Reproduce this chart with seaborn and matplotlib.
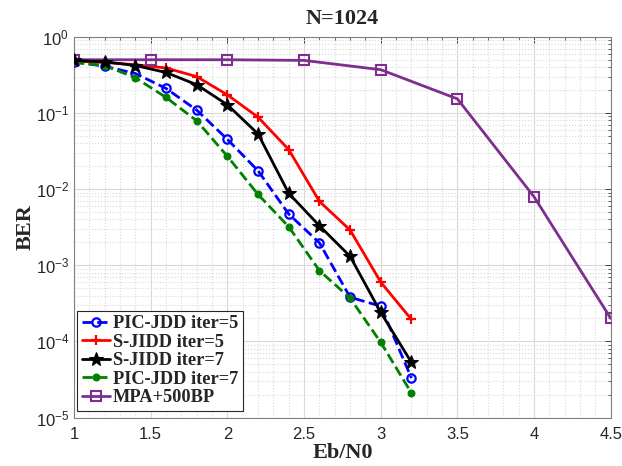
import matplotlib
matplotlib.use("Agg")
import matplotlib.pyplot as plt
import seaborn as sns
import numpy as np
import pandas as pd
from matplotlib.ticker import LogLocator, MultipleLocator, FixedLocator, NullFormatter

# ---- data ----
ebn0 = [1.0, 1.2, 1.4, 1.6, 1.8, 2.0, 2.2, 2.4, 2.6, 2.8, 3.0, 3.2]
pic5 = [0.47, 0.41, 0.33, 0.21, 0.109, 0.045, 0.0174, 0.0047, 0.00197, 3.8e-4, 2.9e-4, 3.3e-5]
sj5 = [0.48, 0.46, 0.43, 0.39, 0.30, 0.173, 0.088, 0.033, 0.0069, 0.0029, 6.0e-4, 1.94e-4]
sj7 = [0.49, 0.47, 0.42, 0.34, 0.235, 0.128, 0.053, 0.0088, 0.0033, 0.00131, 2.4e-4, 5.3e-5]
pic7 = [0.46, 0.42, 0.29, 0.16, 0.079, 0.027, 0.0085, 0.0032, 8.5e-4, 3.7e-4, 9.7e-5, 2.1e-5]
mpa_x = [1.0, 1.5, 2.0, 2.5, 3.0, 3.5, 4.0, 4.5]
mpa = [0.50, 0.50, 0.50, 0.49, 0.37, 0.153, 0.0079, 2.0e-4]

labels = ["PIC-JDD iter=5", "S-JIDD iter=5", "S-JIDD iter=7", "PIC-JDD iter=7", "MPA+500BP"]
title = "N=1024"
xlabel = "Eb/N0"
ylabel = "BER"

sns.set_theme(style="white")
plt.rcParams['font.family'] = ['Liberation Sans', 'DejaVu Sans']
plt.rcParams['mathtext.fontset'] = 'custom'
plt.rcParams['mathtext.rm'] = 'Liberation Sans'
plt.rcParams['mathtext.it'] = 'Liberation Sans'

fig = plt.figure(figsize=(6.22, 4.66), dpi=100)
ax = fig.add_axes([0.119, 0.104, 0.863, 0.817])

purple = (0.49, 0.18, 0.56)
green = (0.0, 0.5, 0.0)

sns.lineplot(x=ebn0, y=pic5, ax=ax, color='blue', linestyle='--', lw=2,
             marker='o', markersize=6, markerfacecolor='none', markeredgecolor='blue',
             markeredgewidth=1.6, label=labels[0], zorder=3)
sns.lineplot(x=ebn0, y=sj5, ax=ax, color='red', linestyle='-', lw=2,
             marker='+', markersize=7, markeredgewidth=1.6, markeredgecolor='red',
             label=labels[1], zorder=3)
sns.lineplot(x=ebn0, y=sj7, ax=ax, color='black', linestyle='-', lw=2,
             marker='*', markersize=10, markeredgecolor='black', markerfacecolor='black',
             label=labels[2], zorder=4)
sns.lineplot(x=ebn0, y=pic7, ax=ax, color=green, linestyle='--', lw=2,
             marker='o', markersize=5, markerfacecolor=green, markeredgecolor=green,
             label=labels[3], zorder=3)
sns.lineplot(x=mpa_x, y=mpa, ax=ax, color=purple, linestyle='-', lw=2,
             marker='s', markersize=6.5, markerfacecolor='none', markeredgecolor=purple,
             markeredgewidth=1.5, label=labels[4], zorder=3)

ax.set_yscale('log')
ax.set_xlim(1, 4.5)
ax.set_ylim(1e-5, 1)
ax.xaxis.set_major_locator(MultipleLocator(0.5))
ax.xaxis.set_minor_locator(MultipleLocator(0.1))
ax.xaxis.set_major_formatter(matplotlib.ticker.FuncFormatter(lambda v, p: f"{v:g}"))
ax.xaxis.set_minor_formatter(NullFormatter())
ax.yaxis.set_major_locator(LogLocator(base=10, numticks=10))
ax.yaxis.set_minor_locator(LogLocator(base=10, subs=np.arange(2, 10), numticks=20))
ax.yaxis.set_minor_formatter(NullFormatter())

ax.grid(True, which='major', color='#d9d9d9', linestyle='-', linewidth=0.8)
ax.grid(True, which='minor', color='#d9d9d9', linestyle=':', linewidth=0.8)
ax.set_axisbelow(True)

ax.tick_params(which='both', direction='in', top=True, right=True,
               colors='#262626', labelsize=12)
ax.tick_params(axis='x', which='major', pad=7)
ax.tick_params(which='major', length=4, width=0.6)
ax.tick_params(which='minor', length=2, width=0.5)
for s in ax.spines.values():
    s.set_color('#808080')
    s.set_linewidth(0.8)

serif = ['Liberation Serif', 'DejaVu Serif']
ax.set_title(title, fontsize=16, fontweight='bold', family=serif, pad=9)
ax.set_xlabel(xlabel, fontsize=16, fontweight='bold', family=serif, labelpad=0.5)
ax.set_ylabel(ylabel, fontsize=16, fontweight='bold', family=serif, labelpad=0)

leg = ax.legend(loc='lower left', bbox_to_anchor=(0.006, 0.018),
                frameon=True, fancybox=False, framealpha=1,
                edgecolor='#262626', borderpad=0.25, labelspacing=0.08,
                handlelength=1.55, handletextpad=0.15, borderaxespad=0.0,
                prop={'family': serif, 'weight': 'bold', 'size': 13.2})
leg.get_frame().set_linewidth(0.8)

fig.savefig("out.png", dpi=100)
